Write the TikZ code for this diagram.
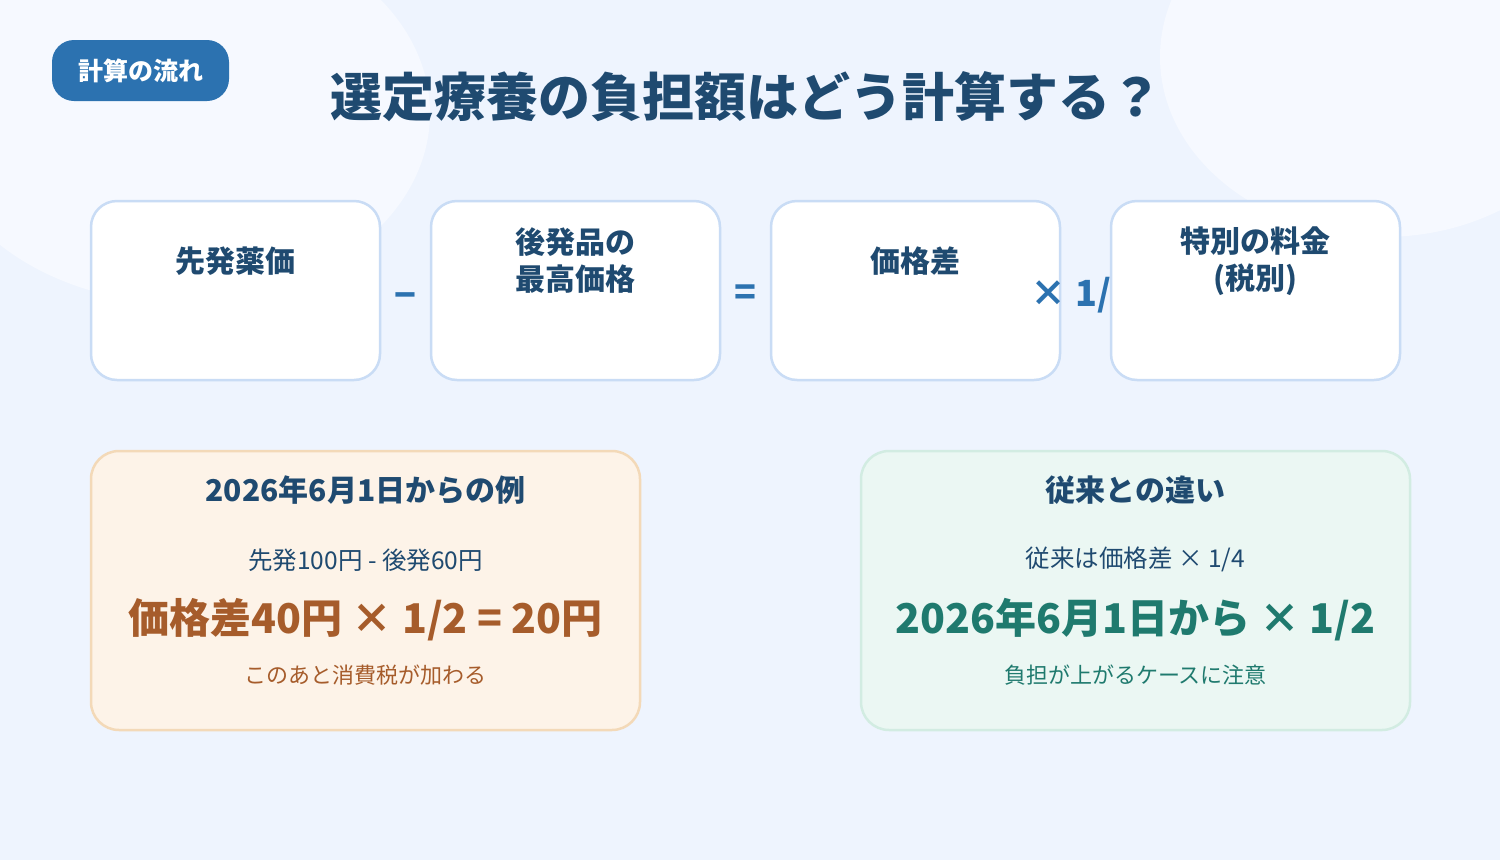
\documentclass[tikz,border=0pt]{standalone}
\usepackage{fontspec}
\setmainfont{Noto Sans CJK JP}
\usetikzlibrary{positioning,calc}
\definecolor{bgblue}{HTML}{EEF4FE}
\definecolor{bglight}{HTML}{F6F9FF}
\definecolor{navy}{HTML}{1F4A70}
\definecolor{accent}{HTML}{2C72B0}
\definecolor{boxline}{HTML}{C9DCF5}
\definecolor{warmfill}{HTML}{FDF3E8}
\definecolor{warmline}{HTML}{F3D9B8}
\definecolor{warmtext}{HTML}{A65C2B}
\definecolor{mintfill}{HTML}{EBF7F3}
\definecolor{mintline}{HTML}{D2ECE2}
\definecolor{minttext}{HTML}{1F7A6E}

\begin{document}
\begin{tikzpicture}[x=1pt, y=-1pt, node distance=340pt,
  block/.style={draw=boxline, fill=white, line width=2.5pt, rounded corners=26pt, minimum width=289pt, minimum height=179pt},
  blocktext/.style={text=navy, font=\fontsize{30}{37}\selectfont\bfseries, align=center},
  opsign/.style={text=accent, font=\fontsize{36}{40}\selectfont\bfseries},
  card/.style={line width=2.5pt, rounded corners=28pt, minimum width=549pt, minimum height=279pt},
  cardhead/.style={text=navy, font=\fontsize{30}{36}\selectfont\bfseries},
  cardsub/.style={font=\fontsize{24.5}{28}\selectfont},
  cardbig/.style={font=\fontsize{41}{48}\selectfont\bfseries},
  cardnote/.style={font=\fontsize{22}{26}\selectfont}]

  % Background
  \fill[bgblue] (0,0) rectangle (1500,860);
  \useasboundingbox (0,0) rectangle (1500,860);
  \fill[bglight] (180,113) ellipse [x radius=250, y radius=190];
  \fill[bglight] (1383,57) ellipse [x radius=223, y radius=180];

  % Tag and title
  \node[fill=accent, rounded corners=22pt, minimum width=177pt, minimum height=61pt, text=white, font=\fontsize{25}{30}\selectfont\bfseries] (Tag) at (140.5,70.5) {計算の流れ};
  \node[text=navy, font=\fontsize{52}{60}\selectfont\bfseries] (Title) at (746,97) {選定療養の負担額はどう計算する？};

  % First row
  \node[block] (A1) at (235.5,290.5) {};
  \node[block, right of=A1] (A2) {};
  \node[block, right of=A2] (A3) {};

  % Operators
  \node[opsign, yshift=-10pt] (M1) at ($(A1.east)!0.5!(A2.west)$) {−};
  \node[opsign, yshift=-5pt] (M2) at ($(A2.east)!0.5!(A3.west)$) {=};
  \node[opsign, anchor=west, inner sep=0pt, yshift=-3pt] (M3) at (1030,292) {×\hspace{9pt}1/};

  \node[block, right of=A3] (A4) {};

  % Labels
  \node[blocktext] (L1) at ([yshift=-61pt]A1.north) {先発薬価};
  \node[blocktext] (L2) at ([yshift=-61pt]A2.north) {後発品の\\最高価格};
  \node[blocktext] (L3) at ([yshift=-61pt]A3.north) {価格差};
  \node[blocktext] (L4) at ([yshift=-61pt]A4.north) {特別の料金\\(税別)};

  % Second row
  \node[card, draw=warmline, fill=warmfill] (B1) at (365.5,590.5) {};
  \node[card, draw=mintline, fill=mintfill] (B2) at (1135.5,590.5) {};

  % Example card
  \node[cardhead] (H1) at ([yshift=-40pt]B1.north) {2026年6月1日からの例};
  \node[cardsub, text=navy] (S1) at ([yshift=-110pt]B1.north) {先発100円 - 後発60円};
  \node[cardbig, text=warmtext] (R1) at ([yshift=-170pt]B1.north) {価格差40円 × 1/2 = 20円};
  \node[cardnote, text=warmtext] (N1) at ([yshift=-225pt]B1.north) {このあと消費税が加わる};

  % Comparison card
  \node[cardhead] (H2) at ([yshift=-40pt]B2.north) {従来との違い};
  \node[cardsub, text=navy] (S2) at ([yshift=-110pt]B2.north) {従来は価格差 × 1/4};
  \node[cardbig, text=minttext] (R2) at ([yshift=-170pt]B2.north) {2026年6月1日から × 1/2};
  \node[cardnote, text=minttext] (N2) at ([yshift=-225pt]B2.north) {負担が上がるケースに注意};

\end{tikzpicture}
\end{document}
